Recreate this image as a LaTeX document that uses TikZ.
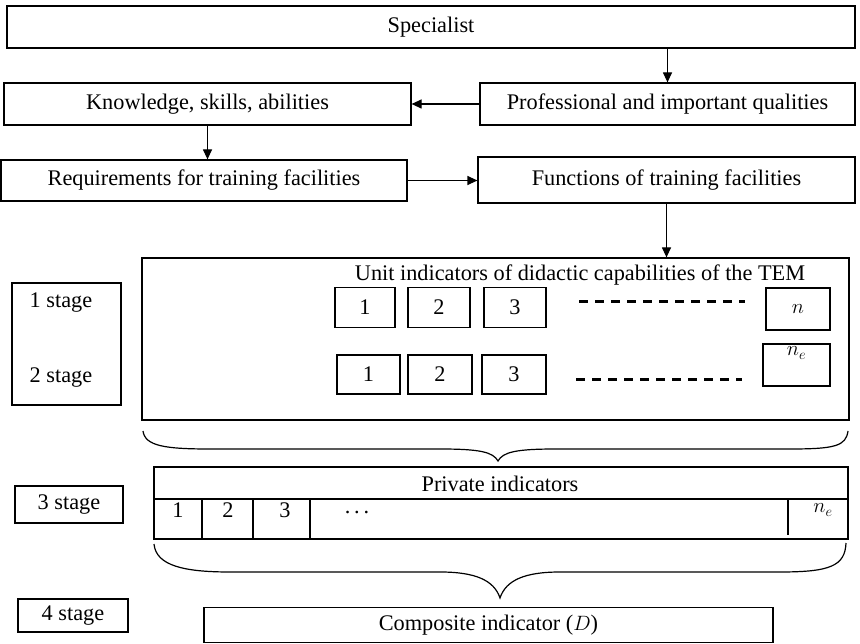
\documentclass[tikz,border=0pt]{standalone}
\usepackage{fontspec}
\setmainfont{Liberation Serif}
\usetikzlibrary{arrows.meta,positioning}

\begin{document}
\begin{tikzpicture}[x=1pt,y=-1pt,
    box/.style={draw, rectangle, line width=1.2pt, inner sep=0pt, font=\fontsize{22.3}{25}\selectfont},
    stagebox/.style={box, line width=1.8pt},
    numbox/.style={box, minimum width=62pt, minimum height=40pt},
    arr/.style={line width=1.2pt, -{Triangle[length=10pt,width=9pt]}},
    dashline/.style={line width=3pt, dash pattern=on 9pt off 7pt},
    lbl/.style={inner sep=0pt, font=\fontsize{22.3}{25}\selectfont}]
    \useasboundingbox (0,0) rectangle (860,644);
    \node[box, minimum width=848pt, minimum height=42pt] (spec) at (431,27) {Specialist};
    \node[box, minimum width=375pt, minimum height=42pt] (prof) at (667.5,104) {Professional and important qualities};
    \node[box, minimum width=407pt, minimum height=42pt] (know) at (207.5,104) {Knowledge, skills, abilities};
    \node[box, minimum width=406pt, minimum height=41pt] (req) at (204,180.5) {Requirements for training facilities};
    \node[box, minimum width=377pt, minimum height=46pt] (func) at (666.5,180) {Functions of training facilities};
    \draw[arr] (prof.north |- spec.south) -- (prof.north);
    \draw[arr] (prof.west) -- (know.east);
    \draw[arr] (know.south) -- (know.south |- req.north);
    \draw[arr] (req.east) -- (req.east -| func.west);
    % stages 1 and 2
    \node[box, minimum width=707pt, minimum height=162pt] (tem) at (495.5,339) {};
    \node[lbl] (temtitle) at (580,275) {Unit indicators of didactic capabilities of the TEM};
    \draw[arr] (func.south) -- (func.south |- tem.north);
    \node[stagebox, minimum width=109pt, minimum height=122pt] (stg12) at (66.5,344) {};
    \node[lbl] (stg1) at (61,303) {1 stage};
    \node[lbl] (stg2) at (61,378) {2 stage};
    \node[numbox, minimum width=60pt] (a1) at (365,307.5) {1};
    \node[numbox] (a2) at (439,307.5) {2};
    \node[numbox] (a3) at (515,307.5) {3};
    \node[numbox, minimum width=64pt, minimum height=42pt] (an) at (798,309) {$n$};
    \draw[dashline] (579,302) -- (745,302);
    \node[numbox, minimum width=63pt, minimum height=39pt] (b1) at (368.5,374.5) {1};
    \node[numbox, minimum width=64pt, minimum height=39pt] (b2) at (440,374.5) {2};
    \node[numbox, minimum width=64pt, minimum height=39pt] (b3) at (514,374.5) {3};
    \node[box, minimum width=67pt, inner sep=4pt, text height=8pt, text depth=26pt] (bn) at (796.5,365) {$n_e$};
    \draw[dashline] (576,380) -- (742,380);
    \draw[line width=1.2pt] (143,431) .. controls (145,446) and (165,449) .. (210,449) -- (440,449)
        .. controls (480,449) and (493,452) .. (498,461) .. controls (503,452) and (516,449) .. (556,449)
        -- (790,449) .. controls (835,449) and (846,446) .. (848,431);
    % stage 3
    \node[stagebox, minimum width=108pt, minimum height=37pt] (stg3) at (69,504.5) {3 stage};
    \node[box, minimum width=694pt, minimum height=72pt] (priv) at (501,503) {};
    \node[lbl] (privtitle) at (500,484) {Private indicators};
    \draw[line width=1.2pt] (priv.west |- 0,499) -- (priv.east |- 0,499);
    \foreach \cx in {202,253,310}
        \draw[line width=1.4pt] (\cx,499) -- (priv.south -| \cx,0);
    \draw[line width=1.4pt] (788,499) -- (788,535);
    \node[lbl] (p1) at (178,510) {1};
    \node[lbl] (p2) at (228,510) {2};
    \node[lbl] (p3) at (285,510) {3};
    \node[lbl] (pdots) at (357,512) {.\,.\,.};
    \node[lbl] (pn) at (823,510) {$n_e$};
    \draw[line width=1.2pt] (154,544) .. controls (156,566) and (185,572) .. (230,572) -- (440,572)
        .. controls (475,572) and (494,580) .. (500,598) .. controls (506,580) and (525,572) .. (560,572)
        -- (780,572) .. controls (830,572) and (845,566) .. (846,543);
    % stage 4
    \node[stagebox, minimum width=110pt, minimum height=33pt] (stg4) at (73,615.5) {4 stage};
    \node[box, minimum width=569pt, minimum height=35pt] (comp) at (488.5,625) {Composite indicator ($D$)};
\end{tikzpicture}
\end{document}
